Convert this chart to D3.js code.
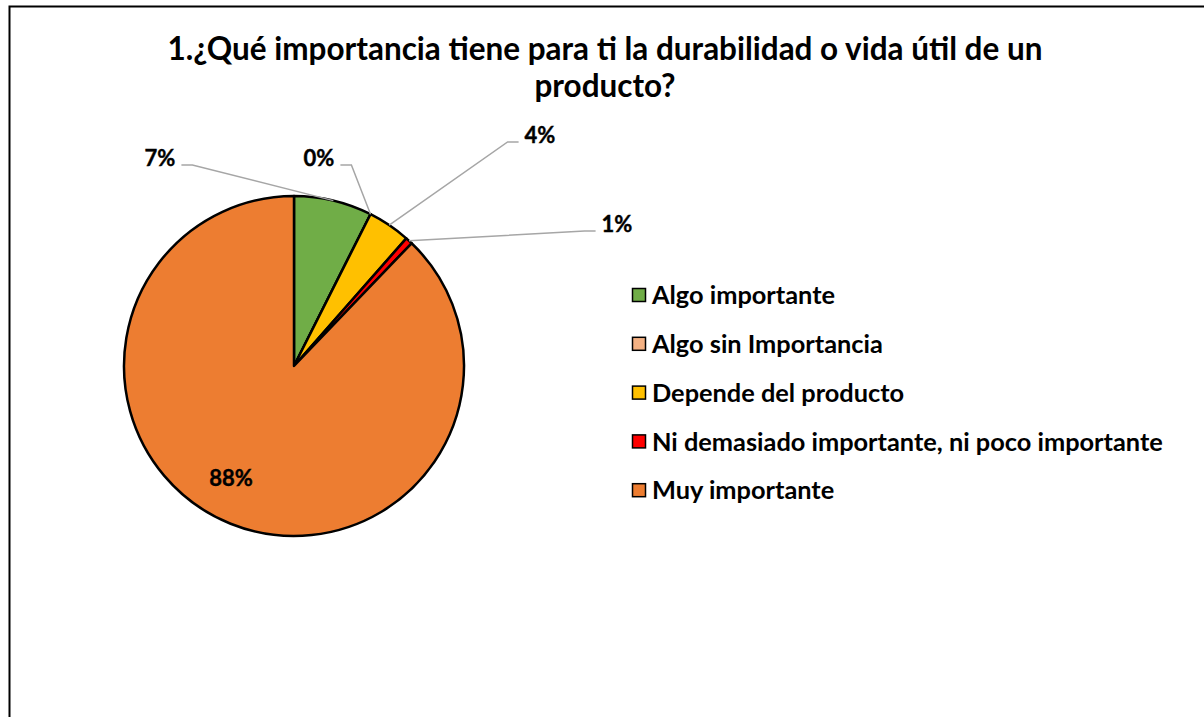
<!DOCTYPE html>
<html>
<head>
<meta charset="utf-8">
<script src="https://cdn.jsdelivr.net/npm/d3@7"></script>
<style>
  body { margin: 0; background: #fff; }
  svg { display: block; }
  text { font-family: Lato, "Open Sans", sans-serif; font-weight: bold; fill: #000; }
</style>
</head>
<body>
<svg id="chart"></svg>
<script>
// answers and how many people picked each one
var categories = ["Algo importante", "Algo sin Importancia", "Depende del producto",
                  "Ni demasiado importante, ni poco importante", "Muy importante"];
var counts = [11, 0, 6, 1, 130];
var colors = ["#70AD47", "#F4B183", "#FFC000", "#FF0000", "#ED7D31"];
var titleLines = ["1.¿Qué importancia tiene para ti la durabilidad o vida útil de un", "producto?"];

var width = 1204, height = 717;
var cx = 294, cy = 366, radius = 170;

// where each data label sits, relative to the pie centre
var labelOffsets = [[-134, -200], [25, -200], [246, -223], [323, -134], [-63, 120]];

var svg = d3.select("#chart").attr("width", width).attr("height", height);

// chart frame (only left and top edges are in the shot)
svg.append("path")
    .attr("d", "M9.5," + height + "V6.5H" + width)
    .attr("fill", "none")
    .attr("stroke", "#000")
    .attr("stroke-width", 2);

// title, fitted so line 1 is about as wide as in the original
var title = svg.append("g");
title.selectAll("text")
    .data(titleLines)
    .enter().append("text")
    .attr("x", 605)
    .attr("y", function(d, i) { return 60 + i * 37; })
    .attr("text-anchor", "middle")
    .style("font-size", "25px")
    .text(function(d) { return d; });
var tw = title.select("text").node().getComputedTextLength();
title.selectAll("text").style("font-size", (25 * 875 / tw) + "px");

var total = d3.sum(counts);
var pie = d3.pie().sort(null).value(function(d) { return d; });
var arcs = pie(counts);
var arc = d3.arc().innerRadius(0).outerRadius(radius);

var g = svg.append("g").attr("transform", "translate(" + cx + "," + cy + ")");

g.selectAll("path.slice")
    .data(arcs)
    .enter().append("path")
    .attr("class", "slice")
    .attr("d", arc)
    .attr("fill", function(d, i) { return colors[i]; })
    .attr("stroke", "#000")
    .attr("stroke-width", 2.5)
    .attr("stroke-linejoin", "round");

// data labels
var labelSize = 22;
arcs.forEach(function(a, i) {
    var off = labelOffsets[i];
    var txt = Math.round(a.value / total * 100) + "%";
    var label = g.append("text")
        .attr("x", off[0])
        .attr("y", off[1])
        .attr("text-anchor", "middle")
        .style("font-size", labelSize + "px")
        .style("stroke", "#000")
        .style("stroke-width", 0.4)
        .text(txt);
    if (i === arcs.length - 1) return; // big slice label sits inside, no leader

    var mid = (a.startAngle + a.endAngle) / 2;
    var px = Math.sin(mid) * radius, py = -Math.cos(mid) * radius;
    var w = label.node().getComputedTextLength();
    var ly = off[1] - 1;
    var edge, elbow;
    if (off[0] < px) {          // label left of its slice
        edge = off[0] + w / 2 + 6;
        elbow = edge + 11;
    } else {
        edge = off[0] - w / 2 - 6;
        elbow = edge - 11;
    }
    g.insert("path", "text")
        .attr("d", "M" + edge + "," + ly + "H" + elbow + "L" + px + "," + py)
        .attr("fill", "none")
        .attr("stroke", "#A6A6A6")
        .attr("stroke-width", 1.5);
});

// legend
var legend = svg.append("g").attr("transform", "translate(632,295)");
var rows = legend.selectAll("g")
    .data(categories)
    .enter().append("g")
    .attr("transform", function(d, i) { return "translate(0," + (i * 48.8) + ")"; });
rows.append("rect")
    .attr("x", 0.5)
    .attr("y", -6.5)
    .attr("width", 13)
    .attr("height", 13)
    .attr("fill", function(d, i) { return colors[i]; })
    .attr("stroke", "#000")
    .attr("stroke-width", 1.5);
rows.append("text")
    .attr("x", 20)
    .attr("dy", "0.36em")
    .style("font-size", "21px")
    .text(function(d) { return d; });
var lw = rows.filter(function(d, i) { return i === 3; }).select("text").node().getComputedTextLength();
rows.selectAll("text").style("font-size", (21 * 511 / lw) + "px");
</script>
</body>
</html>
